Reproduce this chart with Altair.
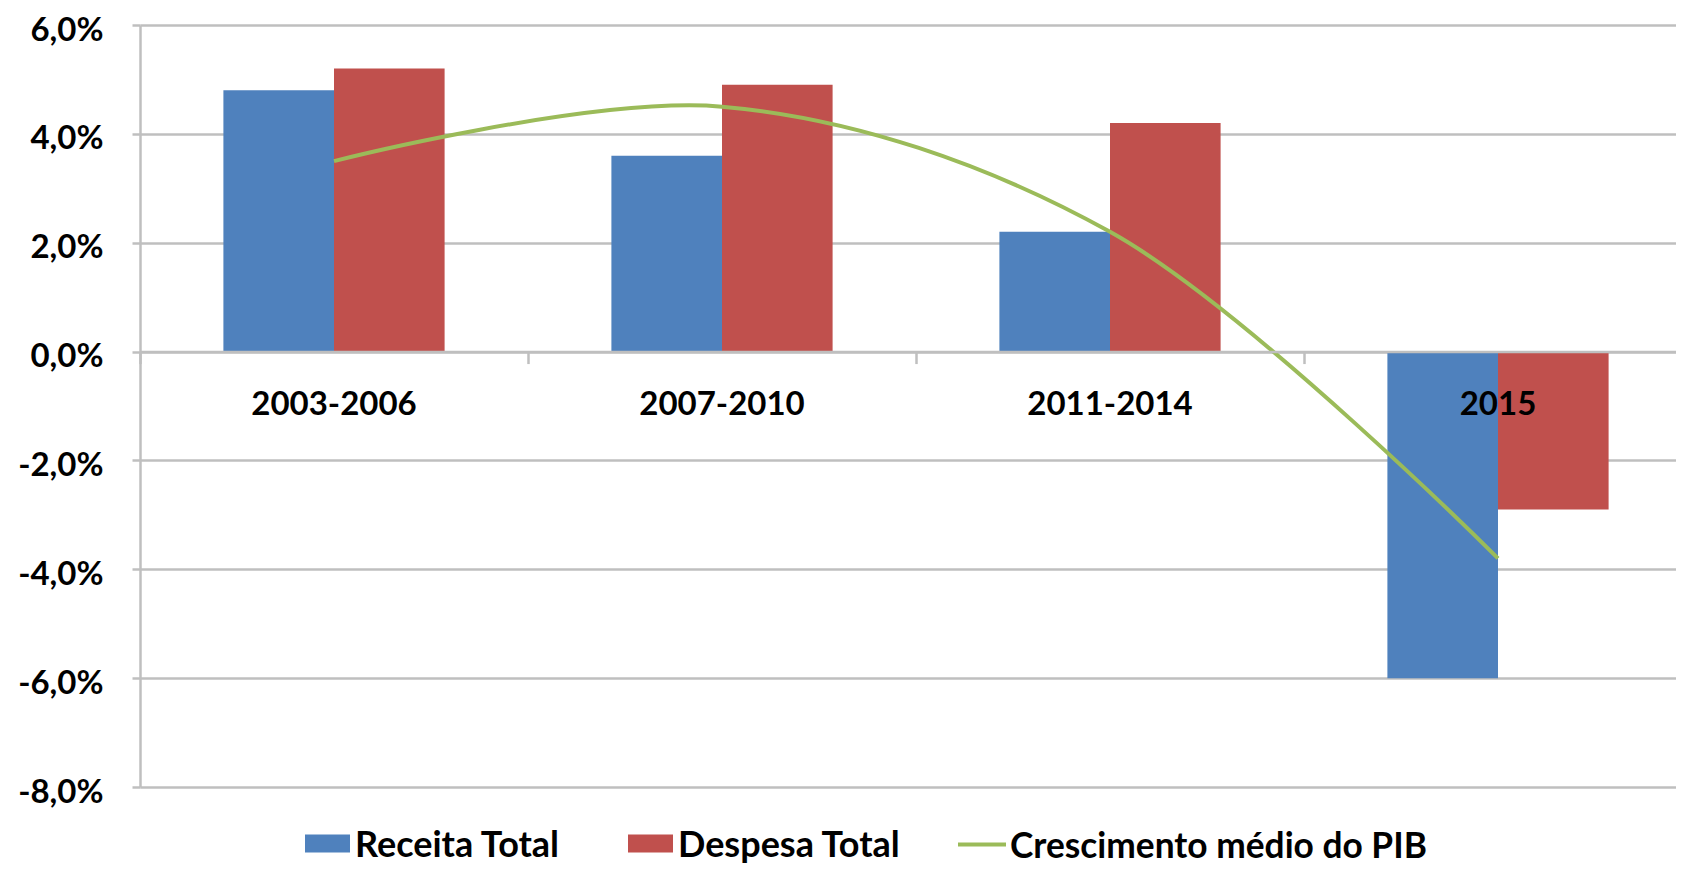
import altair as alt
import pandas as pd

# ---- data ----
categories = ["2003-2006", "2007-2010", "2011-2014", "2015"]
series = ["Receita Total", "Despesa Total"]
receita = [4.8, 3.6, 2.2, -6.0]
despesa = [5.2, 4.9, 4.2, -2.9]
pib_label = "Crescimento médio do PIB"
pib = [3.5, 4.5, 2.2, -3.8]
y_ticks = [-8, -6, -4, -2, 0, 2, 4, 6]

bar_colors = ["#4F81BD", "#C0504D"]
line_color = "#9BBB59"

bars_df = pd.DataFrame({
    "periodo": categories * 2,
    "serie": [series[0]] * len(categories) + [series[1]] * len(categories),
    "valor": receita + despesa,
})
line_df = pd.DataFrame({
    "periodo": categories,
    "serie": [pib_label] * len(categories),
    "valor": pib,
})

# ---- layout ----
W = 1536
H = 762
RANGE_W = 1552
Y_MIN, Y_MAX = -8, 6
FONT = "Lato"
GRID = "#BFBFBF"
TOTAL_H = 862
LEGEND_Y = 798

label_expr = "(datum.value < 0 ? '-' : '') + replace(format(abs(datum.value), '.1f'), '.', ',') + '%'"

x_enc = alt.X(
    "periodo:N",
    sort=categories,
    scale=alt.Scale(paddingInner=0, paddingOuter=0, range=[0, RANGE_W]),
    axis=alt.Axis(
        title=None, orient="bottom",
        offset=-H * (0 - Y_MIN) / (Y_MAX - Y_MIN),
        bandPosition=0,
        labelAngle=0, labelFont=FONT, labelFontSize=33, labelFontWeight="bold",
        labelColor="#000000", labelPadding=25,
        tickSize=12, tickWidth=2.5, tickColor=GRID,
        domainColor=GRID, domainWidth=2.5, grid=False, zindex=1,
    ),
)

y_enc = alt.Y(
    "valor:Q",
    scale=alt.Scale(domain=[Y_MIN, Y_MAX], nice=False, zero=False),
    axis=alt.Axis(
        title=None, values=y_ticks, labelExpr=label_expr,
        labelFont=FONT, labelFontSize=33, labelFontWeight="bold",
        labelColor="#000000", labelPadding=29, labelOffset=5,
        tickSize=8, tickWidth=2.5, tickColor=GRID,
        gridColor=GRID, gridWidth=2.5,
        domainColor=GRID, domainWidth=2.5,
    ),
)

bars = alt.Chart(bars_df).mark_bar().encode(
    x=x_enc,
    xOffset=alt.XOffset("serie:N", sort=series,
                        scale=alt.Scale(paddingInner=0, paddingOuter=0.754)),
    y=y_enc,
    fill=alt.Fill(
        "serie:N",
        scale=alt.Scale(domain=series, range=bar_colors),
        legend=alt.Legend(
            orient="none", legendX=165, legendY=LEGEND_Y, direction="horizontal",
            title=None, symbolType="M-1,-0.5H1V0.3H-1Z", symbolSize=2025,
            symbolStrokeWidth=0, symbolOpacity=1,
            labelFont=FONT, labelFontSize=36, labelFontWeight="bold",
            labelColor="#000000", labelOffset=5, columnPadding=67, labelLimit=0,
        ),
    ),
)

line = alt.Chart(line_df).mark_line(interpolate="catmull-rom", strokeWidth=4).encode(
    x=alt.X("periodo:N", sort=categories),
    y=alt.Y("valor:Q"),
    stroke=alt.Stroke(
        "serie:N",
        scale=alt.Scale(domain=[pib_label], range=[line_color]),
        legend=alt.Legend(
            orient="none", legendX=816, legendY=LEGEND_Y - 2, direction="horizontal",
            title=None, symbolType="M-1,-0.1H1", symbolSize=2304, symbolStrokeWidth=4,
            labelFont=FONT, labelFontSize=35.3, labelFontWeight="bold",
            labelColor="#000000", labelOffset=2, labelLimit=0,
        ),
    ),
)

chart = alt.layer(bars, line).properties(
    width=W,
    height=H,
    autosize=alt.AutoSizeParams(type="none"),
    padding={"left": 132, "top": 17, "right": 0, "bottom": TOTAL_H - 17 - H},
    background="white",
).configure_view(stroke=None)

chart.save("out.html", embed_options={"renderer": "svg", "actions": False})
